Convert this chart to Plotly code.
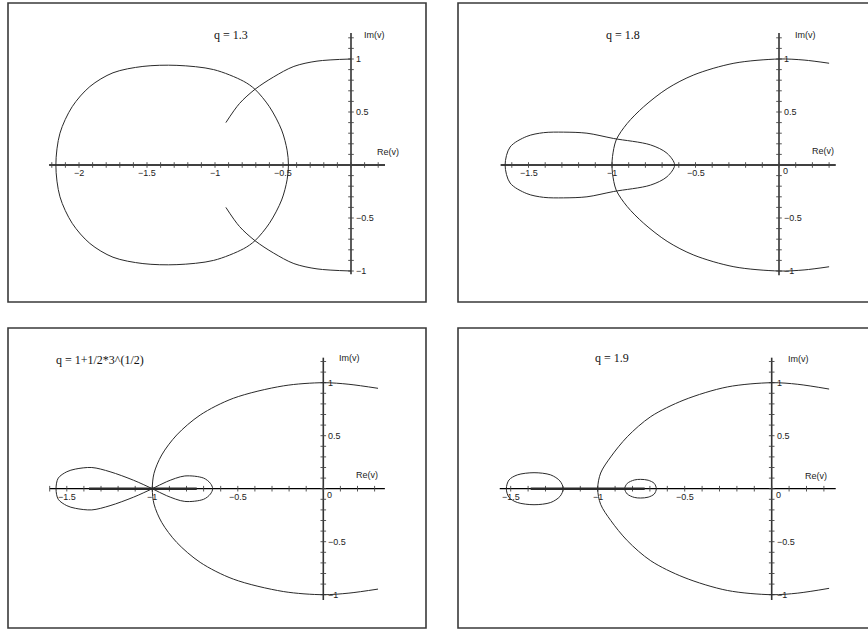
import plotly.graph_objects as go

W, H = 868, 630

# ---------------- data ----------------
titles = ["q = 1.3", "q = 1.8", "q = 1+1/2*3^(1/2)", "q = 1.9"]

# panel 1: q = 1.3
p1_loop_x = [-2.17, -2.14, -2.05, -1.92, -1.75, -1.53, -1.28, -1.01, -0.79, -0.706, -0.60, -0.51, -0.47, -0.46,
             -0.47, -0.51, -0.60, -0.706, -0.79, -1.01, -1.28, -1.53, -1.75, -1.92, -2.05, -2.14, -2.17]
p1_loop_y = [0.0, 0.30, 0.55, 0.74, 0.87, 0.93, 0.94, 0.90, 0.79, 0.714, 0.55, 0.33, 0.14, 0.0,
             -0.14, -0.33, -0.55, -0.714, -0.79, -0.90, -0.94, -0.93, -0.87, -0.74, -0.55, -0.30, 0.0]
p1_arc_up_x = [-0.92, -0.82, -0.706, -0.57, -0.42, -0.25, 0.0]
p1_arc_up_y = [0.40, 0.58, 0.714, 0.83, 0.93, 0.98, 1.0]
p1_arc_dn_x = [-0.92, -0.82, -0.706, -0.57, -0.42, -0.25, 0.0]
p1_arc_dn_y = [-0.40, -0.58, -0.714, -0.83, -0.93, -0.98, -1.0]

# panel 2: q = 1.8
p2_big_x = [0.30, 0.15, 0.0, -0.27, -0.51, -0.67, -0.81, -0.91, -0.975, -0.997, -1.0,
            -0.997, -0.975, -0.91, -0.81, -0.67, -0.51, -0.27, 0.0, 0.15, 0.30]
p2_big_y = [0.96, 0.99, 1.0, 0.96, 0.85, 0.72, 0.55, 0.39, 0.236, 0.08, 0.0,
            -0.08, -0.236, -0.39, -0.55, -0.72, -0.85, -0.96, -1.0, -0.99, -0.96]
p2_loop_x = [-1.64, -1.61, -1.51, -1.41, -1.29, -1.15, -0.99, -0.77, -0.67, -0.625,
             -0.67, -0.77, -0.99, -1.15, -1.29, -1.41, -1.51, -1.61, -1.64]
p2_loop_y = [0.0, 0.17, 0.27, 0.305, 0.31, 0.30, 0.25, 0.19, 0.11, 0.0,
             -0.11, -0.19, -0.25, -0.30, -0.31, -0.305, -0.27, -0.17, 0.0]

# panel 3: q = 1+sqrt(3)/2
p3_big_x = [0.32, 0.15, 0.0, -0.234, -0.526, -0.72, -0.857, -0.945, -0.99, -1.0,
            -0.99, -0.945, -0.857, -0.72, -0.526, -0.234, 0.0, 0.15, 0.32]
p3_big_y = [0.947, 0.985, 1.0, 0.97, 0.853, 0.695, 0.507, 0.318, 0.145, 0.0,
            -0.145, -0.318, -0.507, -0.695, -0.853, -0.97, -1.0, -0.985, -0.947]
p3_eight_x = [-1.0, -0.916, -0.81, -0.70, -0.66, -0.647, -0.66, -0.70, -0.81, -0.916, -1.0,
              -1.11, -1.247, -1.354, -1.45, -1.50, -1.55, -1.563, -1.55, -1.50, -1.45, -1.354, -1.247, -1.11, -1.0]
p3_eight_y = [0.0, -0.066, -0.12, -0.10, -0.05, 0.0, 0.05, 0.10, 0.12, 0.066, 0.0,
              -0.08, -0.16, -0.20, -0.185, -0.16, -0.10, 0.0, 0.10, 0.16, 0.185, 0.20, 0.16, 0.08, 0.0]
p3_real_x = [-1.37, -0.74]
p3_real_y = [0.0, 0.0]

# panel 4: q = 1.9
p4_big_x = [0.33, 0.15, 0.0, -0.255, -0.504, -0.695, -0.83, -0.925, -0.983, -1.0,
            -0.983, -0.925, -0.83, -0.695, -0.504, -0.255, 0.0, 0.15, 0.33]
p4_big_y = [0.94, 0.985, 1.0, 0.96, 0.837, 0.68, 0.49, 0.30, 0.148, 0.0,
            -0.148, -0.30, -0.49, -0.68, -0.837, -0.96, -1.0, -0.985, -0.94]
p4_left_x = [-1.525, -1.51, -1.462, -1.366, -1.27, -1.217, -1.198, -1.217, -1.27, -1.366, -1.462, -1.51, -1.525]
p4_left_y = [0.0, 0.082, 0.13, 0.151, 0.13, 0.073, 0.0, -0.073, -0.13, -0.151, -0.13, -0.082, 0.0]
p4_small_x = [-0.845, -0.83, -0.79, -0.754, -0.71, -0.675, -0.663, -0.675, -0.71, -0.754, -0.79, -0.83, -0.845]
p4_small_y = [0.0, 0.05, 0.082, 0.088, 0.08, 0.05, 0.0, -0.05, -0.08, -0.088, -0.082, -0.05, 0.0]
p4_real_x = [-1.385, -0.73]
p4_real_y = [0.0, 0.0]

# axis extents and tick labels per panel
x_extent = [(-2.22, 0.25), (-1.667, 0.34), (-1.60, 0.36), (-1.563, 0.368)]
y_extent = [(-1.03, 1.245), (-1.04, 1.245), (-1.05, 1.236), (-1.05, 1.236)]
x_tick_labels = [
    [(-2.0, "−2"), (-1.5, "−1.5"), (-1.0, "−1"), (-0.5, "−0.5")],
    [(-1.5, "−1.5"), (-1.0, "−1"), (-0.5, "−0.5")],
    [(-1.5, "−1.5"), (-1.0, "−1"), (-0.5, "−0.5")],
    [(-1.5, "−1.5"), (-1.0, "−1"), (-0.5, "−0.5")],
]
show_zero_label = [False, True, True, True]
y_tick_labels = [(1.0, "1"), (0.5, "0.5"), (-0.5, "−0.5"), (-1.0, "−1")]

# ---------------- layout geometry (pixels) ----------------
boxes = [(8, 3, 426, 302), (458, 3, 872, 302), (8, 328, 426, 628), (458, 328, 872, 628)]
origins = [(351, 165), (779, 165), (323.3, 488.7), (771.7, 488.7)]
scales = [(136, 106), (167, 106), (171, 106), (174, 106)]
title_pos = [(231, 35), (623, 35), (100, 360), (612, 358)]
im_pos = [(374, 35), (805, 35), (349, 358), (798, 359)]
re_pos = [(388, 152), (823, 151), (367, 475), (816, 476)]

curves = [
    [(p1_loop_x, p1_loop_y, 1.0), (p1_arc_up_x, p1_arc_up_y, 1.0), (p1_arc_dn_x, p1_arc_dn_y, 1.0)],
    [(p2_big_x, p2_big_y, 1.0), (p2_loop_x, p2_loop_y, 1.0)],
    [(p3_big_x, p3_big_y, 1.0), (p3_eight_x, p3_eight_y, 1.0), (p3_real_x, p3_real_y, 2.6)],
    [(p4_big_x, p4_big_y, 1.0), (p4_left_x, p4_left_y, 1.0), (p4_small_x, p4_small_y, 1.0),
     (p4_real_x, p4_real_y, 2.6)],
]


def px2paper(px, py):
    return px / W, 1 - py / H


fig = go.Figure()
layout = dict(width=W, height=H, margin=dict(l=0, r=0, t=0, b=0),
              paper_bgcolor="white", plot_bgcolor="rgba(0,0,0,0)", showlegend=False)
shapes = []
annotations = []

for i in range(4):
    n = "" if i == 0 else str(i + 1)
    xa, ya = "x" + n, "y" + n
    x0, y0, x1, y1 = boxes[i]
    ox, oy = origins[i]
    sx, sy = scales[i]
    dx1 = min(x1, W)
    xr = [(x0 - ox) / sx, (dx1 - ox) / sx]
    yr = [(oy - y1) / sy, (oy - y0) / sy]
    layout["xaxis" + n] = dict(domain=[x0 / W, dx1 / W], range=xr, visible=False,
                                anchor=ya, fixedrange=True)
    layout["yaxis" + n] = dict(domain=[1 - y1 / H, 1 - y0 / H], range=yr, visible=False,
                                anchor=xa, fixedrange=True)

    # frame
    bx0, by0 = px2paper(x0, y0)
    bx1, by1 = px2paper(x1, y1)
    shapes.append(dict(type="rect", xref="paper", yref="paper", x0=bx0, x1=bx1, y0=by1, y1=by0,
                       line=dict(color="#3a3a3a", width=1.6), fillcolor="rgba(0,0,0,0)"))

    # axes lines
    xe, ye = x_extent[i], y_extent[i]
    fig.add_trace(go.Scatter(x=[xe[0], xe[1]], y=[0, 0], mode="lines",
                             line=dict(color="black", width=1.3), xaxis=xa, yaxis=ya, hoverinfo="skip"))
    fig.add_trace(go.Scatter(x=[0, 0], y=[ye[0], ye[1]], mode="lines",
                             line=dict(color="#333", width=1.6), xaxis=xa, yaxis=ya, hoverinfo="skip"))
    # minor ticks every 0.1
    k0 = int(round(xe[0] * 10 + 0.49))
    k1 = int(round(xe[1] * 10 - 0.49))
    xt = [k / 10 for k in range(k0, k1 + 1)]
    fig.add_trace(go.Scatter(x=xt, y=[0] * len(xt), mode="markers",
                             marker=dict(symbol="line-ns", size=4, line=dict(color="#444", width=0.9)),
                             xaxis=xa, yaxis=ya, hoverinfo="skip"))
    j0 = int(round(ye[0] * 10 + 0.49))
    j1 = int(round(ye[1] * 10 - 0.49))
    yt = [j / 10 for j in range(j0, j1 + 1)]
    fig.add_trace(go.Scatter(x=[0] * len(yt), y=yt, mode="markers",
                             marker=dict(symbol="line-ew", size=4, line=dict(color="#444", width=0.9)),
                             xaxis=xa, yaxis=ya, hoverinfo="skip"))

    # curves
    for cx, cy, w in curves[i]:
        fig.add_trace(go.Scatter(x=cx, y=cy, mode="lines",
                                 line=dict(color="#2a2a2a", width=w, shape="spline", smoothing=0.9),
                                 xaxis=xa, yaxis=ya, hoverinfo="skip"))

    tick_font = dict(family="Liberation Sans, Arial", size=9, color="#222")
    for v, t in x_tick_labels[i]:
        annotations.append(dict(x=v, y=0, xref=xa, yref=ya, text=t, showarrow=False,
                                xanchor="center", yanchor="middle", yshift=-8, font=tick_font))
    if show_zero_label[i]:
        annotations.append(dict(x=0, y=0, xref=xa, yref=ya, text="0", showarrow=False,
                                xanchor="left", yanchor="middle", xshift=2, yshift=-6, font=tick_font))
    for v, t in y_tick_labels:
        annotations.append(dict(x=0, y=v, xref=xa, yref=ya, text=t, showarrow=False,
                                xanchor="left", yanchor="middle", xshift=3, font=tick_font))

    tx, ty = px2paper(*title_pos[i])
    annotations.append(dict(x=tx, y=ty, xref="paper", yref="paper", text=titles[i], showarrow=False,
                            xanchor="center", yanchor="middle",
                            font=dict(family="Liberation Serif, Times New Roman", size=12, color="#111")))
    ix, iy = px2paper(*im_pos[i])
    annotations.append(dict(x=ix, y=iy, xref="paper", yref="paper", text="Im(v)", showarrow=False,
                            xanchor="center", yanchor="middle", font=tick_font))
    rx, ry = px2paper(*re_pos[i])
    annotations.append(dict(x=rx, y=ry, xref="paper", yref="paper", text="Re(v)", showarrow=False,
                            xanchor="center", yanchor="middle", font=tick_font))

layout["shapes"] = shapes
layout["annotations"] = annotations
fig.update_layout(**layout)
fig.write_html("out.html", config={"displayModeBar": False, "staticPlot": True},
               post_script="document.body.style.margin='0';document.body.style.overflow='hidden';")
